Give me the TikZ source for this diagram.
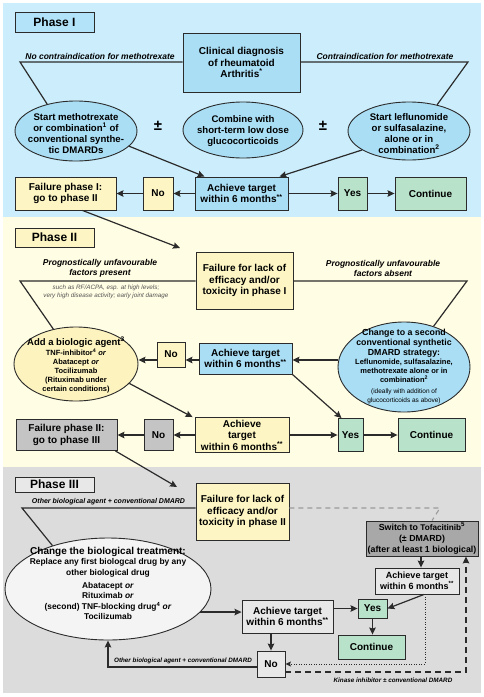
\documentclass[tikz,border=0pt]{standalone}
\usepackage{fontspec}
\setmainfont{Liberation Sans}
\usetikzlibrary{arrows.meta,shapes.geometric}
\definecolor{bgB}{HTML}{CCEEFC}
\definecolor{lblB}{HTML}{B3E3F8}
\definecolor{boxB}{HTML}{A9DEF5}
\definecolor{bgY}{HTML}{FFFDE3}
\definecolor{boxY}{HTML}{FDF6C4}
\definecolor{ellY}{HTML}{FCF3BE}
\definecolor{bgG}{HTML}{DCDCDC}
\definecolor{boxGd}{HTML}{C4C4C4}
\definecolor{boxSw}{HTML}{A8A8A8}
\definecolor{boxL}{HTML}{E8E8E8}
\definecolor{ellW}{HTML}{F4F4F4}
\definecolor{boxGr}{HTML}{B9E2CA}
\definecolor{lineC}{HTML}{2B2B2B}
\definecolor{dashG}{HTML}{9A9A9A}
\definecolor{smallC}{HTML}{555555}
\newcommand\fA{\fontsize{10}{11.5}\selectfont\bfseries}
\begin{document}
\begin{tikzpicture}[x=1pt,y=-1pt,
  box/.style={draw=lineC,line width=0.9pt,inner sep=0pt,align=center,font=\fA},
  phbox/.style={box,font=\fontsize{12}{14}\selectfont\bfseries},
  ell/.style={ellipse,draw=lineC,line width=0.9pt,inner sep=0pt},
  etxt/.style={align=center,inner sep=0pt,font=\fontsize{9.6}{11}\selectfont\bfseries},
  lab/.style={align=center,inner sep=0pt,font=\fontsize{8.5}{10}\selectfont\bfseries\itshape},
  slab/.style={align=center,inner sep=0pt,font=\fontsize{6.3}{7.5}\selectfont\bfseries\itshape},
  gray note/.style={align=center,inner sep=0pt,text=smallC,font=\fontsize{6.3}{8}\selectfont\itshape},
  conn/.style={line width=1.2pt,draw=lineC},
  arr/.style={line width=1.2pt,draw=lineC,-{Stealth[length=7pt,width=6.5pt,inset=1pt]}},
  dotarr/.style={line width=1pt,draw=lineC,dash pattern=on 1pt off 1.5pt,-{Stealth[length=5.5pt,width=5pt,inset=1pt]}},
  dasharr/.style={line width=1.3pt,draw=lineC,dash pattern=on 6pt off 4pt,-{Stealth[length=7pt,width=6.5pt,inset=1pt]}},
  graydash/.style={line width=1.1pt,draw=dashG,dash pattern=on 5pt off 4pt}]
\useasboundingbox (0,0) rectangle (484,697);
\fill[white] (0,0) rectangle (484,697);
\fill[bgB] (3,3) rectangle (481,217);
\fill[bgY] (3,217) rectangle (481,467);
\fill[bgG] (3,467) rectangle (481,693);

% ---------------- Phase I
\node[phbox,fill=lblB,minimum width=79,minimum height=20] (ph1) at (54.5,22) {Phase I};
\node[box,fill=boxB,minimum width=117,minimum height=59] (diag) at (241.5,62.5) {Clinical diagnosis\\of rheumatoid\\Arthritis\textsuperscript{*}};
\node[ell,fill=boxB,minimum width=122,minimum height=60] (e1L) at (76,131) {};
\node[etxt] (e1Lt) at (76,133.5) {Start methotrexate\\or combination\textsuperscript{1} of\\conventional synthe-\\tic DMARDs};
\node[ell,fill=boxB,minimum width=120,minimum height=56] (e1M) at (243,130) {};
\node[etxt] (e1Mt) at (243,131) {Combine with\\short-term low dose\\glucocorticoids};
\node[ell,fill=boxB,minimum width=122,minimum height=58] (e1R) at (409,131) {};
\node[etxt] (e1Rt) at (409,133.5) {Start leflunomide\\or sulfasalazine,\\alone or in\\combination\textsuperscript{2}};
\node[inner sep=0pt,font=\fontsize{15}{15}\selectfont\bfseries] (pm1) at (158,126) {±};
\node[inner sep=0pt,font=\fontsize{15}{15}\selectfont\bfseries] (pm2) at (323,126) {±};
\node[lab] (l1) at (100,56) {No contraindication for methotrexate};
\node[lab] (l2) at (385,56) {Contraindication for methotrexate};
\coordinate (c1L) at (20,62);
\coordinate (c1R) at (468,62);

\node[box,fill=boxY,minimum width=101,minimum height=33] (fail1) at (65.5,193.5) {Failure phase I:\\go to phase II};
\node[box,fill=boxY,minimum width=30,minimum height=33] (no1) at (158,193.5) {No};
\node[box,fill=boxB,minimum width=93,minimum height=33] (ach1) at (241.5,193.5) {Achieve target\\within 6 months\textsuperscript{**}};
\node[box,fill=boxGr,minimum width=29,minimum height=33] (yes1) at (352.5,193.5) {Yes};
\node[box,fill=boxGr,minimum width=71,minimum height=33] (cont1) at (430.5,193.5) {Continue};

\draw[conn] (diag.west |- c1L) -- (c1L) -- (e1L.137);
\draw[conn] (diag.east |- c1R) -- (c1R) -- (e1R.43);
\draw[arr] (e1L.-16) -- ([xshift=-37pt]ach1.north);
\draw[arr] (e1R.202) -- ([xshift=38pt]ach1.north);
\draw[arr] (ach1.west) -- (no1.east);
\draw[arr] (no1.west) -- (fail1.east);
\draw[arr] (ach1.east) -- (yes1.west);
\draw[arr] (yes1.east) -- (cont1.west);

% ---------------- Phase II
\node[phbox,fill=boxY,minimum width=79,minimum height=19] (ph2) at (54.5,237.5) {Phase II};
\node[box,fill=boxY,minimum width=97,minimum height=57] (fail2) at (244.5,280.5) {Failure for lack of\\efficacy and/or\\toxicity in phase I};
\coordinate (t1) at (180,248);
\draw[arr] ([xshift=17pt]fail1.south) -- (t1);
\node[lab] (l3) at (100,268) {Prognostically unfavourable\\factors present};
\node[lab] (l4) at (383,268) {Prognostically unfavourable\\factors absent};
\node[gray note] (l5) at (106,292) {such as RF/ACPA, esp. at high levels;\\very high disease activity; early joint damage};
\coordinate (c2L) at (20,281);
\coordinate (c2R) at (467,281);

\node[ell,fill=ellY,minimum width=124,minimum height=74] (e2L) at (76,364) {};
\node[etxt,font=\fontsize{7.5}{9}\selectfont\bfseries] (e2Lt) at (76,365) {{\fontsize{9.5}{11}\selectfont Add a biologic agent\textsuperscript{3}}\\[1.5pt]TNF-inhibitor\textsuperscript{4} \textit{or}\\Abatacept \textit{or}\\Tocilizumab\\(Rituximab under\\certain conditions)};
\node[ell,fill=boxB,minimum width=132,minimum height=90] (e2R) at (404,367) {};
\node[etxt,font=\fontsize{7.5}{9.2}\selectfont\bfseries] (e2Rt) at (404,366.5) {{\fontsize{8.8}{10}\selectfont Change to a second}\\[0.8pt]{\fontsize{8.8}{10}\selectfont conventional synthetic}\\[0.8pt]{\fontsize{8.8}{10}\selectfont DMARD strategy:}\\Leflunomide, sulfasalazine,\\methotrexate alone or in\\combination\textsuperscript{2}\\[1.5pt]{\fontsize{6.5}{8}\selectfont\mdseries (ideally with addition of}\\{\fontsize{6.5}{8}\selectfont\mdseries glucocorticoids as above)}};
\node[box,fill=boxY,minimum width=28,minimum height=25] (no2) at (171,354.5) {No};
\node[box,fill=boxB,minimum width=93,minimum height=31] (ach2) at (245.5,358.5) {Achieve target\\within 6 months\textsuperscript{**}};

\node[box,fill=boxGd,minimum width=101,minimum height=31] (fail3) at (66.5,435) {Failure phase II:\\go to phase III};
\node[box,fill=boxGd,minimum width=29,minimum height=31] (no3) at (158.5,435) {No};
\node[box,fill=boxY,minimum width=94,minimum height=35] (ach3) at (242,435) {Achieve\\target\\within 6 months\textsuperscript{**}};
\node[box,fill=boxGr,minimum width=25,minimum height=33] (yes2) at (350.5,435) {Yes};
\node[box,fill=boxGr,minimum width=67,minimum height=33] (cont2) at (431.5,435) {Continue};

\draw[conn] (fail2.west |- c2L) -- (c2L) -- (e2L.123);
\draw[conn] (fail2.east |- c2R) -- (c2R) -- (e2R.54);
\draw[arr] ([yshift=-1.5pt]ach2.east -| e2R.west) -- ([yshift=-1.5pt]ach2.east);
\draw[arr] ([yshift=-1.5pt]ach2.west) -- ([yshift=-1.5pt]ach2.west -| no2.east);
\draw[arr] ([yshift=-1.5pt]ach2.west -| no2.west) -- ([yshift=-1.5pt]ach2.west -| e2L.east);
\draw[arr] (e2L.-20) -- ([xshift=-2pt]ach3.north west);
\draw[arr] (ach2.south east) -- ([xshift=-9pt]yes2.north);
\draw[arr] (ach3.west) -- (no3.east);
\draw[arr] (no3.west) -- (fail3.east);
\draw[arr] (ach3.east) -- (yes2.west);
\draw[arr] (yes2.east) -- (cont2.west);

% ---------------- Phase III
\node[phbox,fill=boxL,minimum width=79,minimum height=15] (ph3) at (54.5,484.5) {Phase III};
\node[box,fill=boxY,minimum width=93,minimum height=57] (fail4) at (242.5,511.5) {Failure for lack of\\efficacy and/or\\toxicity in phase II};
\coordinate (t2) at (177,487);
\draw[arr] ([xshift=-2pt]fail3.south east) -- (t2);
\node[slab,font=\fontsize{7}{8}\selectfont\bfseries\itshape] (l6) at (108.5,502) {Other biological agent + conventional DMARD};
\coordinate (c3L) at (22,508);
\coordinate (k1) at (440,508);

\node[ell,fill=ellW,minimum width=206,minimum height=102] (e3) at (108,589) {};
\node[etxt,font=\fontsize{8.4}{10.5}\selectfont\bfseries] (e3t) at (108,583.5) {{\fontsize{10}{11}\selectfont Change the biological treatment:}\\Replace any first biologcal drug by any\\other biological drug\\[2.5pt]Abatacept \textit{or}\\Rituximab \textit{or}\\(second) TNF-blocking drug\textsuperscript{4} \textit{or}\\Tocilizumab};

\node[box,fill=boxSw,minimum width=112,minimum height=35,font=\fontsize{8.8}{11}\selectfont\bfseries] (sw) at (422,538.5) {Switch to {\fontsize{8.2}{10}\selectfont Tofacitinib}\textsuperscript{5}\\(± DMARD)\\(after at least 1 biological)};
\node[box,fill=boxL,minimum width=84,minimum height=26,font=\fontsize{9}{10.5}\selectfont\bfseries] (ach4) at (417,581) {Achieve target\\within 6 months\textsuperscript{**}};
\node[box,fill=boxL,minimum width=91,minimum height=33] (ach5) at (287.5,616.5) {Achieve target\\within 6 months\textsuperscript{**}};
\node[box,fill=boxGr,minimum width=29,minimum height=19] (yes3) at (372.5,608.5) {Yes};
\node[box,fill=boxGr,minimum width=67,minimum height=24] (cont3) at (371.5,647) {Continue};
\node[box,fill=boxL,minimum width=28,minimum height=26] (no4) at (271,664) {No};
\node[slab] (l7) at (183,661) {Other biological agent + conventional DMARD};
\node[slab] (l8) at (393,680) {Kinase inhibitor ± conventional DMARD};
\coordinate (k2) at (466,672);

\draw[conn] (fail4.west |- c3L) -- (c3L) -- (e3.142);
\draw[graydash] (fail4.east |- k1) -- (k1) -- ([xshift=10pt]sw.north);
\draw[arr] ([xshift=-1pt]sw.south) -- ([xshift=-1pt]sw.south |- ach4.north);
\draw[arr] ([xshift=7pt]ach4.south) -- (yes3.east);
\draw[dotarr] ([xshift=8pt]ach4.south) -- ([xshift=8pt]ach4.south |- no4.east) -- (no4.east);
\draw[dasharr] ([yshift=-8pt]no4.east) -- (k2) -- (k2 |- sw.south);
\draw[arr] (e3.-14.8) -- (e3.-14.8 -| ach5.west);
\draw[arr] (ach5.east |- yes3.west) -- (yes3.west);
\draw[arr] (yes3.south) -- (yes3.south |- cont3.north);
\draw[arr] (no4.north |- ach5.south) -- (no4.north);
\draw[arr] ([yshift=-3pt]no4.west) -- ([yshift=-3pt]no4.west -| e3.south) -- (e3.south);
\end{tikzpicture}
\end{document}
